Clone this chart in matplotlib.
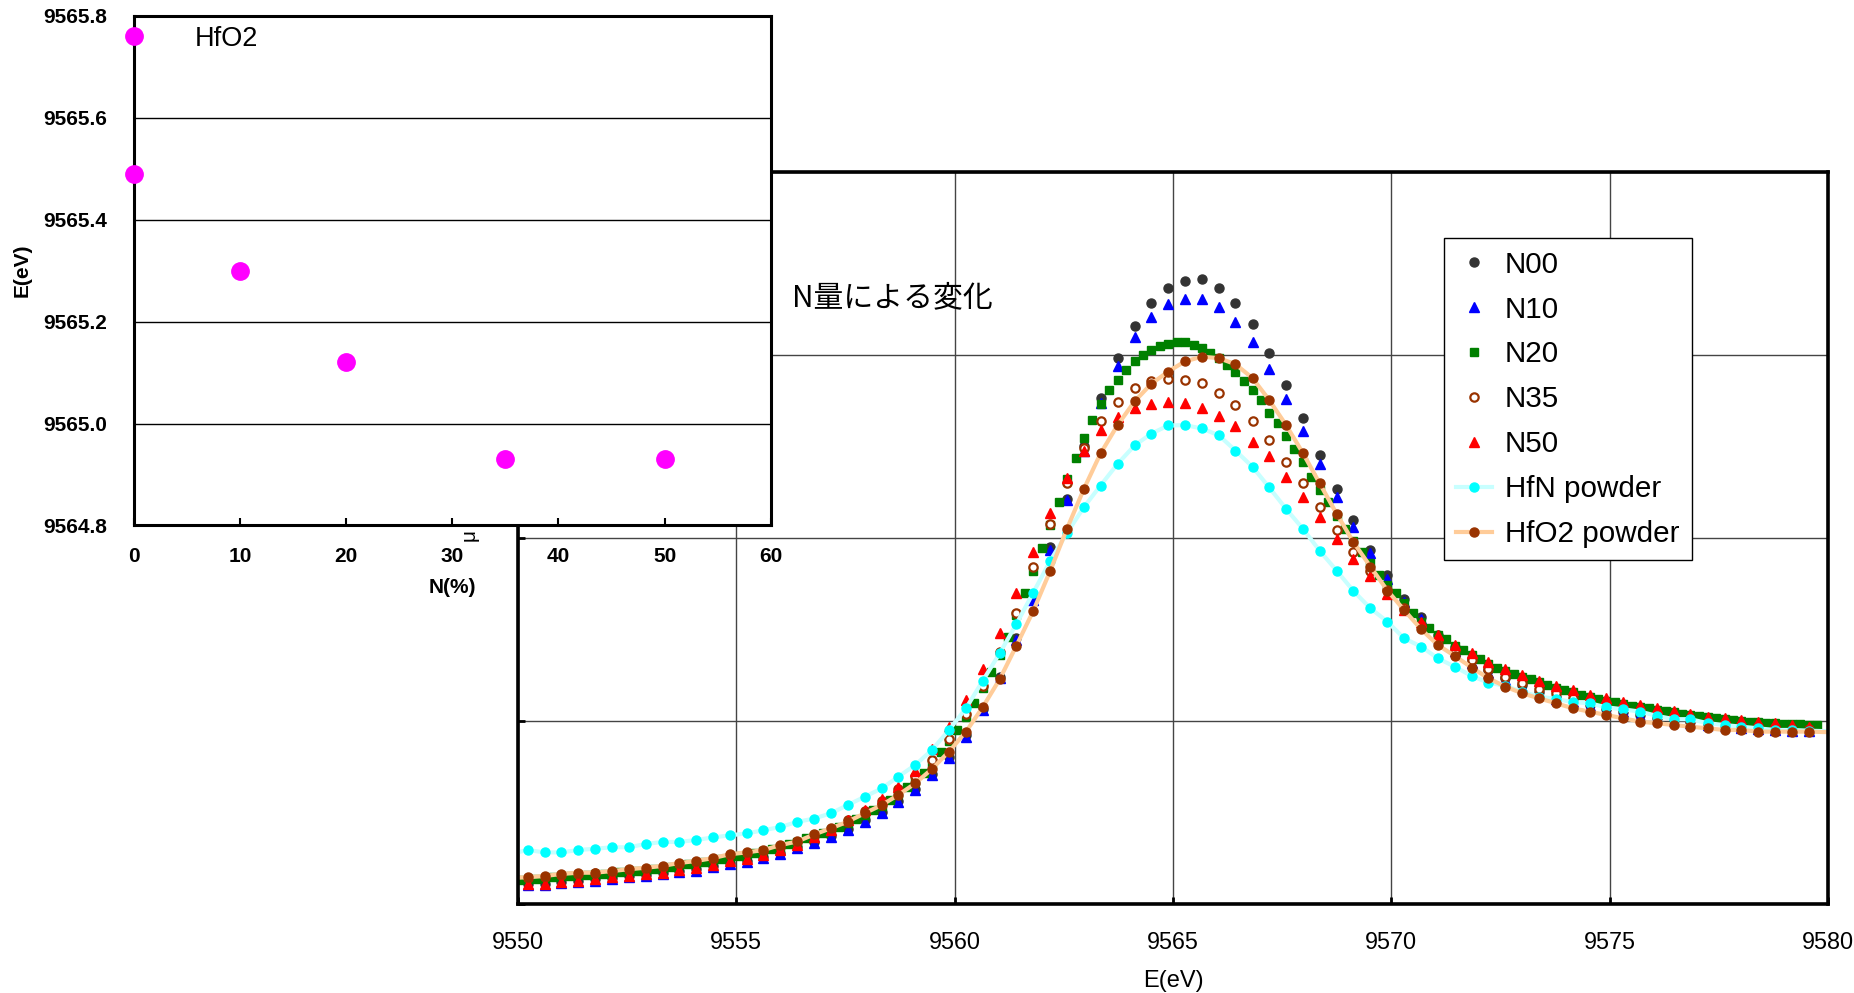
import matplotlib
matplotlib.use("Agg")
import matplotlib.pyplot as plt

plt.rcParams['font.family'] = ['Liberation Sans', 'DejaVu Sans']

# ---------------- main chart data ----------------
energy = [
    9550.22, 9550.61, 9550.99, 9551.38, 9551.76, 9552.15, 9552.54, 9552.92, 9553.31, 9553.69,
    9554.08, 9554.47, 9554.85, 9555.24, 9555.62, 9556.01, 9556.40, 9556.78, 9557.17, 9557.55,
    9557.94, 9558.33, 9558.71, 9559.10, 9559.48, 9559.87, 9560.26, 9560.64, 9561.03, 9561.41,
    9561.80, 9562.19, 9562.57, 9562.96, 9563.34, 9563.73, 9564.12, 9564.50, 9564.89, 9565.27,
    9565.66, 9566.05, 9566.43, 9566.82, 9567.20, 9567.59, 9567.98, 9568.36, 9568.75, 9569.13,
    9569.52, 9569.91, 9570.29, 9570.68, 9571.06, 9571.45, 9571.84, 9572.22, 9572.61, 9572.99,
    9573.38, 9573.77, 9574.15, 9574.54, 9574.92, 9575.31, 9575.70, 9576.08, 9576.47, 9576.85,
    9577.24, 9577.63, 9578.01, 9578.40, 9578.78, 9579.17, 9579.56]

n00 = [
    0.106, 0.106, 0.119, 0.124, 0.132, 0.142, 0.151, 0.158, 0.166, 0.178,
    0.187, 0.204, 0.221, 0.234, 0.256, 0.278, 0.308, 0.339, 0.372, 0.408,
    0.455, 0.500, 0.563, 0.628, 0.710, 0.802, 0.920, 1.066, 1.240, 1.450,
    1.670, 1.950, 2.212, 2.500, 2.765, 2.981, 3.158, 3.282, 3.366, 3.400,
    3.413, 3.366, 3.282, 3.165, 3.009, 2.834, 2.653, 2.450, 2.267, 2.094,
    1.931, 1.795, 1.665, 1.567, 1.470, 1.400, 1.335, 1.278, 1.232, 1.193,
    1.158, 1.128, 1.105, 1.085, 1.065, 1.048, 1.030, 1.015, 1.002, 0.990,
    0.980, 0.972, 0.964, 0.957, 0.951, 0.947, 0.943]

n10 = [
    0.100, 0.100, 0.113, 0.118, 0.126, 0.136, 0.145, 0.152, 0.160, 0.172,
    0.181, 0.198, 0.215, 0.228, 0.250, 0.272, 0.302, 0.333, 0.366, 0.402,
    0.448, 0.494, 0.557, 0.621, 0.703, 0.794, 0.912, 1.058, 1.232, 1.441,
    1.660, 1.933, 2.207, 2.471, 2.735, 2.936, 3.098, 3.206, 3.275, 3.302,
    3.302, 3.260, 3.176, 3.069, 2.921, 2.757, 2.583, 2.402, 2.223, 2.059,
    1.915, 1.775, 1.651, 1.555, 1.450, 1.380, 1.315, 1.262, 1.222, 1.183,
    1.150, 1.120, 1.100, 1.080, 1.060, 1.045, 1.025, 1.010, 0.998, 0.988,
    0.978, 0.970, 0.962, 0.955, 0.950, 0.946, 0.942]

energy_n20 = [
    9550.03, 9550.22, 9550.41, 9550.61, 9550.80, 9550.99, 9551.19, 9551.38, 9551.57, 9551.76,
    9551.96, 9552.15, 9552.34, 9552.54, 9552.73, 9552.92, 9553.12, 9553.31, 9553.50, 9553.69,
    9553.89, 9554.08, 9554.27, 9554.47, 9554.66, 9554.85, 9555.05, 9555.24, 9555.43, 9555.62,
    9555.82, 9556.01, 9556.20, 9556.40, 9556.59, 9556.78, 9556.98, 9557.17, 9557.36, 9557.55,
    9557.75, 9557.94, 9558.13, 9558.33, 9558.52, 9558.71, 9558.91, 9559.10, 9559.29, 9559.48,
    9559.68, 9559.87, 9560.06, 9560.26, 9560.45, 9560.64, 9560.84, 9561.03, 9561.22, 9561.41,
    9561.61, 9561.80, 9561.99, 9562.19, 9562.38, 9562.57, 9562.77, 9562.96, 9563.15, 9563.34,
    9563.54, 9563.73, 9563.92, 9564.12, 9564.31, 9564.50, 9564.70, 9564.89, 9565.08, 9565.27,
    9565.47, 9565.66, 9565.85, 9566.05, 9566.24, 9566.43, 9566.63, 9566.82, 9567.01, 9567.20,
    9567.40, 9567.59, 9567.78, 9567.98, 9568.17, 9568.36, 9568.56, 9568.75, 9568.94, 9569.13,
    9569.33, 9569.52, 9569.71, 9569.91, 9570.10, 9570.29, 9570.49, 9570.68, 9570.87, 9571.06,
    9571.26, 9571.45, 9571.64, 9571.84, 9572.03, 9572.22, 9572.42, 9572.61, 9572.80, 9572.99,
    9573.19, 9573.38, 9573.57, 9573.77, 9573.96, 9574.15, 9574.35, 9574.54, 9574.73, 9574.92,
    9575.12, 9575.31, 9575.50, 9575.70, 9575.89, 9576.08, 9576.28, 9576.47, 9576.66, 9576.85,
    9577.05, 9577.24, 9577.43, 9577.63, 9577.82, 9578.01, 9578.21, 9578.40, 9578.59, 9578.78,
    9578.98, 9579.17, 9579.36, 9579.56, 9579.75]

n20 = [
    0.128, 0.132, 0.135, 0.139, 0.144, 0.150, 0.153, 0.157, 0.158, 0.160,
    0.164, 0.167, 0.172, 0.176, 0.180, 0.185, 0.190, 0.195, 0.202, 0.209,
    0.215, 0.221, 0.229, 0.237, 0.245, 0.253, 0.262, 0.270, 0.279, 0.288,
    0.300, 0.312, 0.325, 0.338, 0.357, 0.370, 0.385, 0.402, 0.420, 0.440,
    0.462, 0.485, 0.510, 0.535, 0.565, 0.598, 0.635, 0.672, 0.712, 0.765,
    0.830, 0.890, 0.949, 1.020, 1.095, 1.180, 1.268, 1.360, 1.459, 1.580,
    1.697, 1.820, 1.943, 2.070, 2.197, 2.320, 2.434, 2.544, 2.644, 2.730,
    2.808, 2.863, 2.918, 2.963, 2.996, 3.023, 3.045, 3.060, 3.067, 3.069,
    3.054, 3.036, 3.009, 2.981, 2.945, 2.908, 2.854, 2.808, 2.753, 2.681,
    2.624, 2.553, 2.487, 2.415, 2.333, 2.260, 2.196, 2.120, 2.049, 1.980,
    1.924, 1.861, 1.797, 1.742, 1.697, 1.645, 1.590, 1.541, 1.505, 1.469,
    1.445, 1.408, 1.385, 1.360, 1.335, 1.312, 1.290, 1.270, 1.255, 1.240,
    1.225, 1.210, 1.195, 1.180, 1.168, 1.155, 1.142, 1.130, 1.120, 1.110,
    1.100, 1.090, 1.082, 1.075, 1.068, 1.060, 1.052, 1.045, 1.038, 1.030,
    1.025, 1.020, 1.015, 1.010, 1.005, 1.000, 0.995, 0.992, 0.989, 0.986,
    0.984, 0.982, 0.980, 0.978, 0.976]

n35 = [
    0.140, 0.146, 0.157, 0.164, 0.165, 0.173, 0.183, 0.191, 0.201, 0.216,
    0.228, 0.244, 0.265, 0.276, 0.290, 0.312, 0.335, 0.372, 0.410, 0.455,
    0.505, 0.560, 0.625, 0.700, 0.785, 0.900, 1.037, 1.190, 1.377, 1.590,
    1.839, 2.075, 2.298, 2.489, 2.635, 2.744, 2.816, 2.856, 2.868, 2.863,
    2.845, 2.788, 2.725, 2.635, 2.533, 2.414, 2.296, 2.168, 2.041, 1.922,
    1.820, 1.715, 1.614, 1.520, 1.440, 1.385, 1.330, 1.280, 1.240, 1.205,
    1.175, 1.150, 1.125, 1.105, 1.085, 1.065, 1.050, 1.035, 1.020, 1.005,
    0.995, 0.985, 0.977, 0.970, 0.963, 0.957, 0.952]

n50 = [
    0.107, 0.107, 0.120, 0.125, 0.133, 0.144, 0.153, 0.160, 0.169, 0.184,
    0.193, 0.213, 0.233, 0.244, 0.268, 0.293, 0.322, 0.362, 0.405, 0.458,
    0.514, 0.574, 0.639, 0.725, 0.844, 0.967, 1.113, 1.281, 1.481, 1.697,
    1.924, 2.134, 2.325, 2.471, 2.588, 2.662, 2.711, 2.730, 2.744, 2.735,
    2.711, 2.664, 2.609, 2.525, 2.445, 2.333, 2.223, 2.113, 1.995, 1.881,
    1.790, 1.693, 1.605, 1.541, 1.469, 1.414, 1.369, 1.323, 1.283, 1.250,
    1.219, 1.190, 1.168, 1.141, 1.122, 1.104, 1.086, 1.068, 1.053, 1.037,
    1.022, 1.013, 1.004, 0.994, 0.986, 0.976, 0.967]

# reference powders (sampled a little beyond both ends of the window)
energy_ref = [9549.83] + energy + [9580.33]

hfn_powder = [0.272,
    0.293, 0.280, 0.280, 0.293, 0.300, 0.308, 0.308, 0.326, 0.337, 0.337,
    0.348, 0.362, 0.373, 0.384, 0.401, 0.419, 0.447, 0.465, 0.494, 0.539,
    0.584, 0.630, 0.694, 0.758, 0.840, 0.949, 1.068, 1.217, 1.368, 1.527,
    1.700, 1.874, 2.025, 2.167, 2.285, 2.403, 2.504, 2.568, 2.613, 2.615,
    2.597, 2.559, 2.476, 2.387, 2.275, 2.157, 2.047, 1.928, 1.819, 1.709,
    1.614, 1.541, 1.450, 1.405, 1.341, 1.295, 1.244, 1.208, 1.190, 1.159,
    1.131, 1.119, 1.101, 1.095, 1.073, 1.062, 1.049, 1.026, 1.008, 1.008,
    0.986, 0.976, 0.967, 0.958, 0.949, 0.949, 0.945,
    0.940]

hfo2_powder = [0.140,
    0.144, 0.151, 0.162, 0.169, 0.169, 0.178, 0.188, 0.196, 0.206, 0.222,
    0.233, 0.249, 0.270, 0.280, 0.293, 0.320, 0.340, 0.378, 0.412, 0.448,
    0.494, 0.539, 0.594, 0.658, 0.736, 0.831, 0.940, 1.073, 1.226, 1.408,
    1.600, 1.820, 2.048, 2.267, 2.460, 2.615, 2.745, 2.840, 2.908, 2.963,
    2.989, 2.981, 2.948, 2.872, 2.753, 2.615, 2.460, 2.296, 2.129, 1.976,
    1.842, 1.711, 1.605, 1.500, 1.414, 1.354, 1.290, 1.232, 1.186, 1.150,
    1.122, 1.095, 1.068, 1.049, 1.031, 1.013, 0.994, 0.986, 0.976, 0.967,
    0.958, 0.949, 0.949, 0.940, 0.940, 0.940, 0.940,
    0.935]

x_ticks = [9550, 9555, 9560, 9565, 9570, 9575, 9580]
x_tick_labels = ['9550', '9555', '9560', '9565', '9570', '9575', '9580']
y_ticks = [0, 1, 2, 3, 4]

# ---------------- inset data ----------------
n_percent = [0, 0, 10, 20, 35, 50]
edge_energy = [9565.76, 9565.49, 9565.30, 9565.12, 9564.93, 9564.93]
inset_x_ticks = [0, 10, 20, 30, 40, 50, 60]
inset_x_labels = ['0', '10', '20', '30', '40', '50', '60']
inset_y_ticks = [9564.8, 9565.0, 9565.2, 9565.4, 9565.6, 9565.8]
inset_y_labels = ['9564.8', '9565.0', '9565.2', '9565.4', '9565.6', '9565.8']

# ---------------- figure ----------------
fig = plt.figure(figsize=(18.54, 9.93), dpi=100)

ax = fig.add_axes([0.2794, 0.0900, 0.7066, 0.7371])
ax.set_zorder(1)
ax.set_xlim(9550, 9580)
ax.set_ylim(0, 4)
ax.set_axisbelow(True)
ax.grid(True, color='#444444', linewidth=1.0)
for sp in ax.spines.values():
    sp.set_linewidth(2.6)
    sp.set_color('black')
ax.set_xticks(x_ticks, x_tick_labels, fontsize=16.8)
ax.set_yticks(y_ticks)
ax.tick_params(axis='x', direction='in', length=5, width=2, pad=19.5)
ax.tick_params(axis='y', direction='in', length=5, width=2, labelleft=False)
ax.set_xlabel('E(eV)', fontsize=17, labelpad=12)
ax.set_ylabel('μ', fontsize=15)
ax.yaxis.set_label_coords(-0.030, 0.503)

ax.plot(energy, n00, linestyle='none', marker='o', ms=6.5, color='#333333',
        mec='#333333', label='N00')
ax.plot(energy, n10, linestyle='none', marker='^', ms=7.6, color='#0000FF',
        mec='#0000FF', label='N10')
ax.plot(energy_n20, n20, linestyle='none', marker='s', ms=6.0, color='#008000',
        mec='#008000', label='N20')
ax.plot(energy, n35, linestyle='none', marker='o', ms=6.0, mfc='white',
        mec='#993300', mew=1.6, label='N35')
ax.plot(energy, n50, linestyle='none', marker='^', ms=7.6, color='#FF0000',
        mec='#FF0000', label='N50')
ax.plot(energy_ref, hfn_powder, linestyle='-', lw=3, color='#C8FFFF',
        marker='o', ms=6.5, mfc='#00FFFF', mec='#00FFFF', label='HfN powder')
ax.plot(energy_ref, hfo2_powder, linestyle='-', lw=3, color='#FFCC99',
        marker='o', ms=6.5, mfc='#993300', mec='#993300', label='HfO2 powder')

ax.text(9556.27, 3.311, 'N量による変化', fontsize=21.5, ha='left', va='center',
        family=['Noto Sans CJK JP', 'DejaVu Sans'])

leg = ax.legend(loc='upper left', bbox_to_anchor=(0.7066, 0.909), borderaxespad=0,
                fontsize=21.3, frameon=True, fancybox=False, framealpha=1,
                edgecolor='black', handlelength=1.2, handletextpad=0.45,
                labelspacing=0.57, borderpad=0.42, numpoints=1)
leg.get_frame().set_linewidth(1.0)

# ---------------- inset ----------------
ins = fig.add_axes([0.0721, 0.4708, 0.3437, 0.5131])
ins.set_zorder(5)
ins.set_facecolor('white')
ins.set_xlim(0, 60)
ins.set_ylim(9564.8, 9565.8)
ins.set_axisbelow(True)
ins.yaxis.grid(True, color='black', linewidth=1.0)
for sp in ins.spines.values():
    sp.set_linewidth(2.2)
    sp.set_color('black')
ins.set_xticks(inset_x_ticks, inset_x_labels, fontsize=15, fontweight='bold')
ins.set_yticks(inset_y_ticks, inset_y_labels, fontsize=15, fontweight='bold')
ins.tick_params(axis='x', direction='in', length=5, width=1.5, pad=15.3)
ins.tick_params(axis='y', direction='in', length=0, width=1.5, pad=19)
ins.set_xlabel('N(%)', fontsize=15, fontweight='bold', labelpad=9)
ins.set_ylabel('E(eV)', fontsize=15, fontweight='bold', labelpad=8.4)
ins.plot(n_percent, edge_energy, linestyle='none', marker='o', ms=12.5,
         color='#FF00FF', mec='#FF00FF', clip_on=False, zorder=4)
ins.text(5.78, 9565.755, 'HfO2', fontsize=19.5, ha='left', va='center')

fig.savefig('out.png', dpi=100)
